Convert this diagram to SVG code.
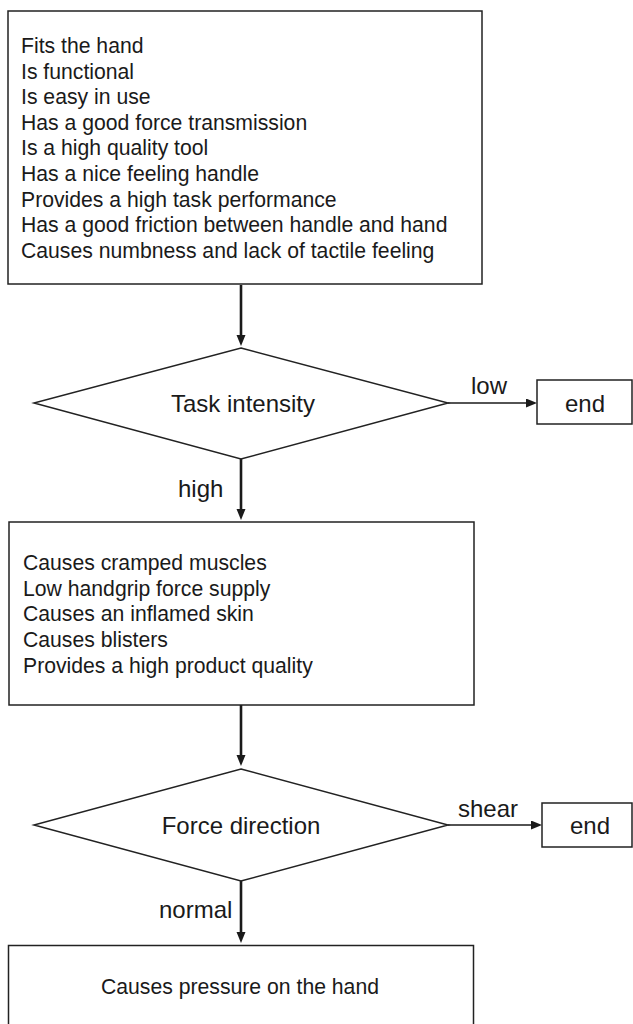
<svg xmlns="http://www.w3.org/2000/svg" width="633" height="1024" viewBox="0 0 633 1024">
<defs>
<style>
.box{fill:#fff;stroke:#222;stroke-width:1.5}
.dia{fill:#fff;stroke:#222;stroke-width:1.5}
.t{font-family:"Liberation Sans",Arial,sans-serif;fill:#1a1a1a}
.bt{font-size:21.2px}
.lb{font-size:24px}
.v{stroke:#1a1a1a;stroke-width:2.6;fill:none}
.h{stroke:#1a1a1a;stroke-width:1.5;fill:none}
</style>
<marker id="ah" markerUnits="userSpaceOnUse" markerWidth="12" markerHeight="10" refX="1" refY="4.5" orient="auto" viewBox="0 0 12 10">
<path d="M0,0 L11,4.5 L0,9 z" fill="#1a1a1a"/>
</marker>
</defs>
<rect width="633" height="1024" fill="#fff"/>
<g id="connectors">
<line class="v" x1="241" y1="285" x2="241" y2="336" marker-end="url(#ah)"/>
<line class="h" x1="448" y1="403" x2="527" y2="403" marker-end="url(#ah)"/>
<line class="v" x1="241" y1="459" x2="241" y2="510" marker-end="url(#ah)"/>
<line class="v" x1="241" y1="705" x2="241" y2="756" marker-end="url(#ah)"/>
<line class="h" x1="448" y1="825" x2="532" y2="825" marker-end="url(#ah)"/>
<line class="v" x1="241" y1="881" x2="241" y2="933" marker-end="url(#ah)"/>
<text class="t lb" x="471" y="394">low</text>
<text class="t lb" x="178" y="497">high</text>
<text class="t lb" x="458" y="817">shear</text>
<text class="t lb" x="159" y="918">normal</text>
</g>
<g id="box1">
<rect class="box" x="8" y="11" width="474" height="273"/>
<text class="t bt" x="21" y="53">Fits the hand</text>
<text class="t bt" x="21" y="78.6">Is functional</text>
<text class="t bt" x="21" y="104.2">Is easy in use</text>
<text class="t bt" x="21" y="129.8">Has a good force transmission</text>
<text class="t bt" x="21" y="155.4">Is a high quality tool</text>
<text class="t bt" x="21" y="181">Has a nice feeling handle</text>
<text class="t bt" x="21" y="206.6">Provides a high task performance</text>
<text class="t bt" x="21" y="232.2">Has a good friction between handle and hand</text>
<text class="t bt" x="21" y="257.8">Causes numbness and lack of tactile feeling</text>
</g>
<g id="decision1">
<polygon class="dia" points="241,348 448,403 241,459 34,403"/>
<text class="t lb" x="243" y="412" text-anchor="middle">Task intensity</text>
</g>
<g id="end1">
<rect class="box" x="537" y="380" width="95" height="44"/>
<text class="t lb" x="585" y="412" text-anchor="middle">end</text>
</g>
<g id="box2">
<rect class="box" x="9" y="522" width="465" height="183"/>
<text class="t bt" x="23" y="570">Causes cramped muscles</text>
<text class="t bt" x="23" y="595.7">Low handgrip force supply</text>
<text class="t bt" x="23" y="621.4">Causes an inflamed skin</text>
<text class="t bt" x="23" y="647.1">Causes blisters</text>
<text class="t bt" x="23" y="672.8">Provides a high product quality</text>
</g>
<g id="decision2">
<polygon class="dia" points="241,769 448,825 241,881 34,825"/>
<text class="t lb" x="241" y="834" text-anchor="middle">Force direction</text>
</g>
<g id="end2">
<rect class="box" x="542" y="803" width="90" height="44"/>
<text class="t lb" x="590" y="834" text-anchor="middle">end</text>
</g>
<g id="box3">
<rect class="box" x="8.5" y="945.5" width="465" height="100"/>
<text class="t bt" x="240" y="994" text-anchor="middle">Causes pressure on the hand</text>
</g>
</svg>
